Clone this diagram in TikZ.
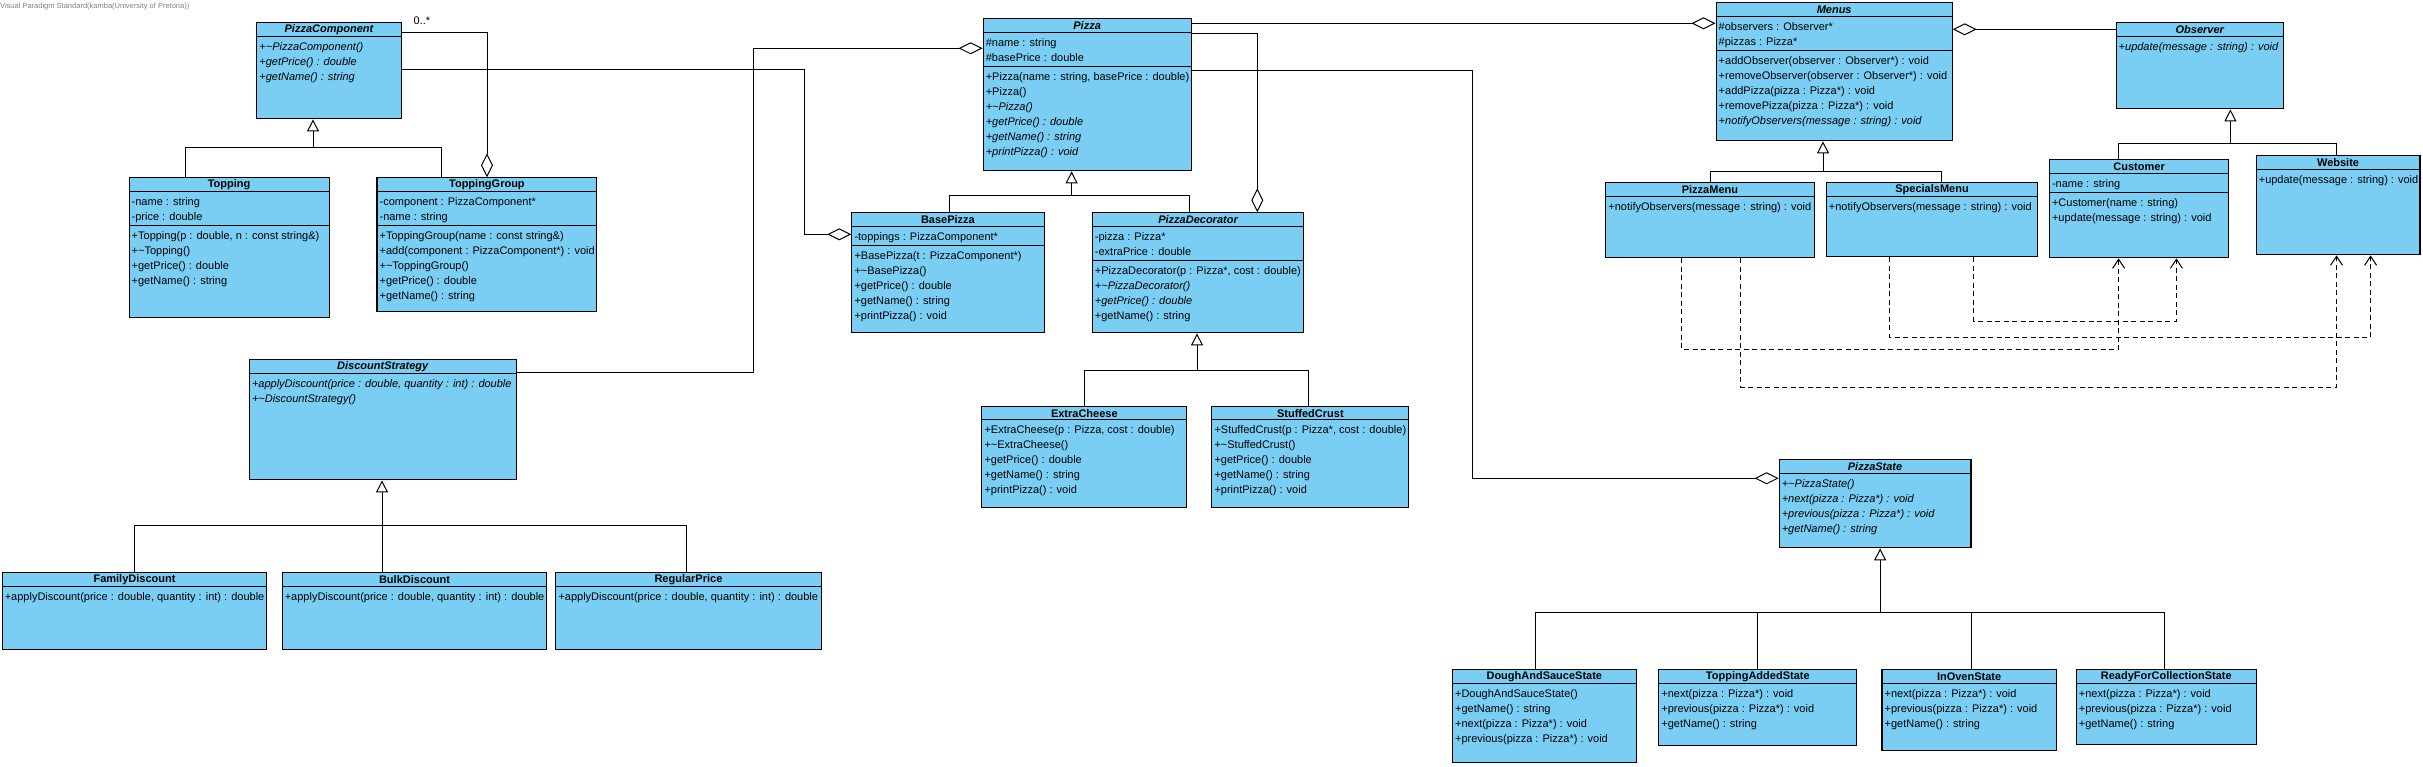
\documentclass[tikz,border=0pt]{standalone}
\usepackage{fontspec}
\setmainfont{Liberation Sans}
\usetikzlibrary{arrows.meta,calc}
\definecolor{vpblue}{RGB}{122,206,244}
\definecolor{vpgray}{RGB}{128,128,128}

% class box: name, x, y, width, height, title, attribute part height, attributes, operations
\newcommand{\umlclass}[9]{%
  \node[cls, minimum width=#4pt, minimum height=#5pt] (#1) at (#2,-#3) {};
  \node[head] at ($(#1.north)+(0,-7.5)$) {#6};
  \draw[line width=1.1pt] ($(#1.north west)+(0,-14)$) -- ($(#1.north east)+(0,-14)$);
  \if\relax\detokenize{#8}\relax
    \node[memb] at ($(#1.north west)+(3,-19)$) {\rule{0pt}{9pt}#9};
  \else
    \node[memb] at ($(#1.north west)+(3,-19)$) {\rule{0pt}{9pt}#8};
    \draw[line width=1.1pt] ($(#1.north west)+(0,-14-#7)$) -- ($(#1.north east)+(0,-14-#7)$);
    \node[memb] at ($(#1.north west)+(3,-19-#7)$) {\rule{0pt}{9pt}#9};
  \fi
}

\begin{document}
\begin{tikzpicture}[x=1pt,y=1pt]
    \tikzset{cls/.style={draw, fill=vpblue, line width=1.1pt
    , anchor=north west, inner sep=0
      },
    head/.style={font=\fontsize{11}{13}\selectfont\bfseries, inner sep=0},
    memb/.style={anchor=north west, align=left, inner sep=0
    , font=\fontsize{11}{15}\selectfont},
    gen/.style={line width=1pt, -{Triangle[open, length=12pt, width=12pt]}},
    agg/.style={line width=1pt, {Diamond[open, length=24pt, width=12pt]}-},
    dep/.style={line width=1pt, dash pattern=on 5pt off 3.5pt
    , -{Straight Barb[length=9pt, width=12pt]}}
    }
\useasboundingbox (0,0) rectangle (2423,-766);

\node[anchor=west, inner sep=0, text=vpgray, font=\fontsize{7.5}{8}\selectfont] (vp) at (0,-7) {Visual Paradigm Standard(kamba(University of Pretoria))};

% pizza components
\umlclass{pcomp}{256.2}{22.3}{144.4}{96}{\itshape PizzaComponent}{0}{}{\textit{+\textasciitilde PizzaComponent()}\\\textit{+getPrice() : double}\\\textit{+getName() : string}}
\umlclass{topping}{128.5}{177.3}{200.1}{140}{Topping}{34}{-name : string\\-price : double}{+Topping(p : double, n : const string\&)\\+\textasciitilde Topping()\\+getPrice() : double\\+getName() : string}
\umlclass{tgroup}{376.4}{177.3}{219.9}{134}{ToppingGroup}{34}{-component : PizzaComponent*\\-name : string}{+ToppingGroup(name : const string\&)\\+add(component : PizzaComponent*) : void\\+\textasciitilde ToppingGroup()\\+getPrice() : double\\+getName() : string}

% pizzas
\umlclass{pizza}{982.6}{18.3}{208}{152}{\itshape Pizza}{34}{\#name : string\\\#basePrice : double}{+Pizza(name : string, basePrice : double)\\+Pizza()\\\textit{+\textasciitilde Pizza()}\\\textit{+getPrice() : double}\\\textit{+getName() : string}\\\textit{+printPizza() : void}}
\umlclass{base}{851.3}{212.3}{192.2}{120}{BasePizza}{19}{-toppings : PizzaComponent*}{+BasePizza(t : PizzaComponent*)\\+\textasciitilde BasePizza()\\+getPrice() : double\\+getName() : string\\+printPizza() : void}
\umlclass{deco}{1091.7}{212.3}{211.6}{120}{\itshape PizzaDecorator}{34}{-pizza : Pizza*\\-extraPrice : double}{+PizzaDecorator(p : Pizza*, cost : double)\\\textit{+\textasciitilde PizzaDecorator()}\\\textit{+getPrice() : double}\\+getName() : string}
\umlclass{cheese}{981.3}{405.7}{205}{101.3}{ExtraCheese}{0}{}{+ExtraCheese(p : Pizza, cost : double)\\+\textasciitilde ExtraCheese()\\+getPrice() : double\\+getName() : string\\+printPizza() : void}
\umlclass{crust}{1211.3}{405.7}{197}{101.3}{StuffedCrust}{0}{}{+StuffedCrust(p : Pizza*, cost : double)\\+\textasciitilde StuffedCrust()\\+getPrice() : double\\+getName() : string\\+printPizza() : void}

% discounts
\umlclass{disc}{248.8}{359.3}{266.8}{120}{\itshape DiscountStrategy}{0}{}{\textit{+applyDiscount(price : double, quantity : int) : double}\\\textit{+\textasciitilde DiscountStrategy()}}
\umlclass{family}{1.6}{572.3}{264.7}{77}{FamilyDiscount}{0}{}{+applyDiscount(price : double, quantity : int) : double}
\umlclass{bulk}{281.6}{572.3}{264.7}{77}{BulkDiscount}{0}{}{+applyDiscount(price : double, quantity : int) : double}
\umlclass{regular}{555.3}{572.3}{265.2}{77}{RegularPrice}{0}{}{+applyDiscount(price : double, quantity : int) : double}

% menus and observers
\umlclass{menus}{1715.5}{2.3}{236.2}{138}{\itshape Menus}{34}{\#observers : Observer*\\\#pizzas : Pizza*}{+addObserver(observer : Observer*) : void\\+removeObserver(observer : Observer*) : void\\+addPizza(pizza : Pizza*) : void\\+removePizza(pizza : Pizza*) : void\\\textit{+notifyObservers(message : string) : void}}
\umlclass{observer}{2115.5}{22.3}{167.5}{86}{\itshape Observer}{0}{}{\textit{+update(message : string) : void}}
\umlclass{pmenu}{1605.2}{182.3}{208.4}{75}{PizzaMenu}{0}{}{+notifyObservers(message : string) : void}
\umlclass{smenu}{1825.7}{182.3}{211.6}{74}{SpecialsMenu}{0}{}{+notifyObservers(message : string) : void}
\umlclass{customer}{2048.8}{159.3}{179.5}{98}{Customer}{19}{-name : string}{+Customer(name : string)\\+update(message : string) : void}
\umlclass{website}{2255.6}{155.3}{163.8}{99}{Website}{0}{}{+update(message : string) : void}

% states
\umlclass{state}{1778.6}{459.3}{191.8}{88}{\itshape PizzaState}{0}{}{\textit{+\textasciitilde PizzaState()}\\\textit{+next(pizza : Pizza*) : void}\\\textit{+previous(pizza : Pizza*) : void}\\\textit{+getName() : string}}
\umlclass{dough}{1451.9}{669.3}{183.7}{93}{DoughAndSauceState}{0}{}{+DoughAndSauceState()\\+getName() : string\\+next(pizza : Pizza*) : void\\+previous(pizza : Pizza*) : void}
\umlclass{topadded}{1658.2}{669.3}{198.1}{76}{ToppingAddedState}{0}{}{+next(pizza : Pizza*) : void\\+previous(pizza : Pizza*) : void\\+getName() : string}
\umlclass{oven}{1881.4}{669.3}{174.3}{81}{InOvenState}{0}{}{+next(pizza : Pizza*) : void\\+previous(pizza : Pizza*) : void\\+getName() : string}
\umlclass{ready}{2075.7}{669.3}{180}{75}{ReadyForCollectionState}{0}{}{+next(pizza : Pizza*) : void\\+previous(pizza : Pizza*) : void\\+getName() : string}

% generalisations
\draw[gen] (topping.north -| 185,0) |- (313,-147) -- (pcomp.south -| 313,0);
\draw[line width=1pt] (tgroup.north -| 441,0) |- (313,-147);
\draw[gen] (base.north -| 949.4,0) |- (1071.6,-195.3) -- (pizza.south -| 1071.6,0);
\draw[line width=1pt] (deco.north -| 1189.4,0) |- (1071.6,-195.3);
\draw[gen] (cheese.north -| 1084.5,0) |- (1197,-370.3) -- (deco.south -| 1197,0);
\draw[line width=1pt] (crust.north -| 1308.5,0) |- (1197,-370.3);
\draw[gen] (bulk.north -| 382,0) -- (disc.south -| 382,0);
\draw[line width=1pt] (family.north -| 134.5,0) |- (382,-525.3);
\draw[line width=1pt] (regular.north -| 686.6,0) |- (382,-525.3);
\draw[gen] (pmenu.north -| 1710.8,0) |- (1823,-171.3) -- (menus.south -| 1823,0);
\draw[line width=1pt] (smenu.north -| 1941.2,0) |- (1823,-171.3);
\draw[gen] (customer.north -| 2118.6,0) |- (2230.4,-143.7) -- (observer.south -| 2230.4,0);
\draw[line width=1pt] (website.north -| 2336.5,0) |- (2230.4,-143.7);
\draw[gen] (dough.north -| 1535.9,0) |- (1880.1,-612.3) -- (state.south -| 1880.1,0);
\draw[line width=1pt] (topadded.north -| 1757.2,0) |- (1880.1,-612.3);
\draw[line width=1pt] (oven.north -| 1971.4,0) |- (1880.1,-612.3);
\draw[line width=1pt] (ready.north -| 2164.8,0) |- (1880.1,-612.3);

% aggregations
\draw[agg] (tgroup.north -| 487,0) |- (pcomp.east |- 0,-32.3);
\node[inner sep=0, font=\fontsize{11}{13}\selectfont] (mult) at (422,-21) {0..*};
\draw[agg] (base.west |- 0,-234.3) -| (804.3,-69.3) -- (pcomp.east |- 0,-69.3);
\draw[agg] (pizza.west |- 0,-48.3) -| (753.8,-372.3) -- (disc.east |- 0,-372.3);
\draw[agg] (deco.north -| 1257.3,0) |- (pizza.east |- 0,-33.3);
\draw[agg] (menus.west |- 0,-23.3) -- (pizza.east |- 0,-23.3);
\draw[agg] (menus.east |- 0,-29.3) -- (observer.west |- 0,-29.3);
\draw[agg] (state.west |- 0,-478.3) -| (1472.3,-70.3) -- (pizza.east |- 0,-70.3);

% dependencies
\draw[dep] (pmenu.south -| 1681.4,0) |- (2118.6,-349.3) -- (customer.south -| 2118.6,0);
\draw[dep] (pmenu.south -| 1740.7,0) |- (2336.5,-387) -- (website.south -| 2336.5,0);
\draw[dep] (smenu.south -| 1889.8,0) |- (2370.6,-337.3) -- (website.south -| 2370.6,0);
\draw[dep] (smenu.south -| 1973.8,0) |- (2176.4,-321) -- (customer.south -| 2176.4,0);
\end{tikzpicture}
\end{document}
